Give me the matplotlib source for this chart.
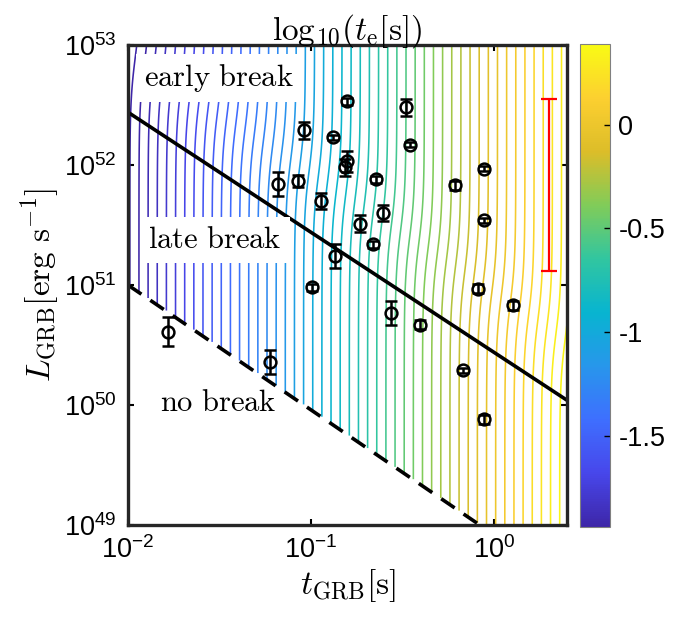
import numpy as np
import matplotlib
matplotlib.use('Agg')
import matplotlib.pyplot as plt
from matplotlib.colors import LinearSegmentedColormap, Normalize
from matplotlib.cm import ScalarMappable

plt.rcParams['font.family'] = ['Liberation Sans', 'DejaVu Sans']
plt.rcParams['mathtext.fontset'] = 'custom'
plt.rcParams['mathtext.rm'] = 'Liberation Sans'
plt.rcParams['mathtext.it'] = 'Liberation Sans:italic'
plt.rcParams['mathtext.bf'] = 'Liberation Sans:bold'
plt.rcParams['axes.unicode_minus'] = False

# GRB sample: duration [s], log10 luminosity, error on log10 L
t_grb = [0.0166, 0.0598, 0.0662, 0.0851, 0.0918, 0.1016, 0.1138, 0.1324, 0.1358,
         0.158, 0.158, 0.154, 0.186, 0.219, 0.228, 0.249, 0.275, 0.333, 0.350,
         0.397, 0.610, 0.682, 0.815, 0.887, 0.887, 0.887, 1.276]
log_L = [50.61, 50.36, 51.84, 51.87, 52.29, 50.98, 51.70, 52.23, 51.24,
         52.53, 52.03, 51.98, 51.51, 51.34, 51.88, 51.60, 50.77, 52.48, 52.17,
         50.67, 51.83, 50.29, 50.97, 51.97, 51.54, 49.88, 50.83]
log_L_err = [0.12, 0.10, 0.10, 0.05, 0.07, 0.03, 0.07, 0.02, 0.10,
             0.03, 0.09, 0.07, 0.07, 0.03, 0.03, 0.07, 0.10, 0.07, 0.02,
             0.04, 0.04, 0.02, 0.04, 0.02, 0.02, 0.04, 0.04]

# typical uncertainty bar (red)
t_typ = 2.0
log_L_typ = 51.835
log_L_typ_err = 0.715

# boundaries: L * t = const
log_Lt_late = 50.44     # early / late break
log_L_nobreak = 51.0    # no break line at t = 0.01 s
nobreak_slope = -1.04

# parula-like colormap
parula = LinearSegmentedColormap.from_list('parula', [
    (0.2422, 0.1504, 0.6603), (0.2803, 0.2782, 0.9221), (0.2440, 0.4358, 0.9988),
    (0.1540, 0.5902, 0.9218), (0.0297, 0.7082, 0.8163), (0.1938, 0.7758, 0.6251),
    (0.5044, 0.7993, 0.3480), (0.8634, 0.7406, 0.1596), (0.9892, 0.8136, 0.1885),
    (0.9769, 0.9839, 0.0805)])
vmin, vmax = -1.94, 0.39

# model map of log10(te): te ~ t below the break line, slightly earlier above it
X, Y = np.meshgrid(np.linspace(-2, 0.4, 500), np.linspace(49, 53, 500))
u = X + Y - log_Lt_late
Z = X - 0.06 * 0.5 * (1 + np.tanh((u - 0.5) / 0.4))
Z = np.ma.masked_where(Y < log_L_nobreak + nobreak_slope * (X + 2), Z)

fig = plt.figure(figsize=(6.94, 6.29), dpi=100)
ax = fig.add_axes([0.1844, 0.1653, 0.6326, 0.7631])
cax = fig.add_axes([0.8357, 0.1622, 0.0432, 0.768])

levels = np.arange(-1.99, 0.40, 0.05)
ax.contour(10**X, 10**Y, Z, levels=levels, cmap=parula, vmin=vmin, vmax=vmax,
           linewidths=1.15)

tt = np.logspace(-2, 0.4, 50)
ax.plot(tt, 10**(log_Lt_late - np.log10(tt)), color='k', lw=2.6)
ax.plot(tt, 10**(log_L_nobreak + nobreak_slope * (np.log10(tt) + 2)), color='k',
        lw=2.6, dashes=(4.5, 3))

L = 10**np.array(log_L)
err = np.array(log_L_err)
ax.errorbar(t_grb, L, yerr=[L - L * 10**(-err), L * 10**err - L], fmt='o', ms=8.5,
            mfc='none', mec='k', mew=1.8, ecolor='k', elinewidth=1.8, capsize=4,
            capthick=1.8, zorder=5)
Lt = 10**log_L_typ
ax.errorbar([t_typ], [Lt], yerr=[[Lt - Lt * 10**-log_L_typ_err], [Lt * 10**log_L_typ_err - Lt]],
            fmt='none', ecolor='red', elinewidth=1.6, capsize=6, capthick=1.6)

box = dict(fc='white', ec='none', pad=6)
ax.text(0.0315, 10**52.725, r'$\mathrm{early\ break}$', math_fontfamily='cm',
        fontsize=22, ha='center', va='center', bbox=box, zorder=4)
ax.text(0.0299, 10**51.375, r'$\mathrm{late\ break}$', math_fontfamily='cm',
        fontsize=22, ha='center', va='center', bbox=box, zorder=4)
ax.text(0.0311, 10**50.017, r'$\mathrm{no\ break}$', math_fontfamily='cm',
        fontsize=22, ha='center', va='center', zorder=4)

ax.set_xscale('log')
ax.set_yscale('log')
ax.set_xlim(1e-2, 10**0.4)
ax.set_ylim(1e49, 1e53)
ax.set_xticks([1e-2, 1e-1, 1e0])
ax.set_yticks([1e49, 1e50, 1e51, 1e52, 1e53])
ax.minorticks_off()
ax.tick_params(direction='in', length=4, width=1.5, top=True, right=True,
               labelsize=19.5, pad=8)
for s in ax.spines.values():
    s.set_linewidth(2.4)
    s.set_color('#262626')

ax.set_xlabel(r'$t_{\rm GRB}[{\rm s}]$', math_fontfamily='cm', fontsize=24, labelpad=2)
ax.set_ylabel(r'$L_{\rm GRB}[{\rm erg\ s^{-1}}]$', math_fontfamily='cm', fontsize=24,
              labelpad=2)
ax.set_title(r'$\mathrm{log}_{10}(t_{\rm e}[{\rm s}])$', math_fontfamily='cm',
             fontsize=24, pad=4)

cb = fig.colorbar(ScalarMappable(Normalize(vmin, vmax), parula), cax=cax)
cb.set_ticks([-1.5, -1, -0.5, 0])
cb.set_ticklabels(['-1.5', '-1', '-0.5', '0'])
cb.ax.tick_params(direction='in', length=4, width=1, labelsize=19.5, pad=6)
cb.outline.set_linewidth(0.8)
cb.outline.set_edgecolor('#808080')

fig.savefig('out.png', dpi=100)
